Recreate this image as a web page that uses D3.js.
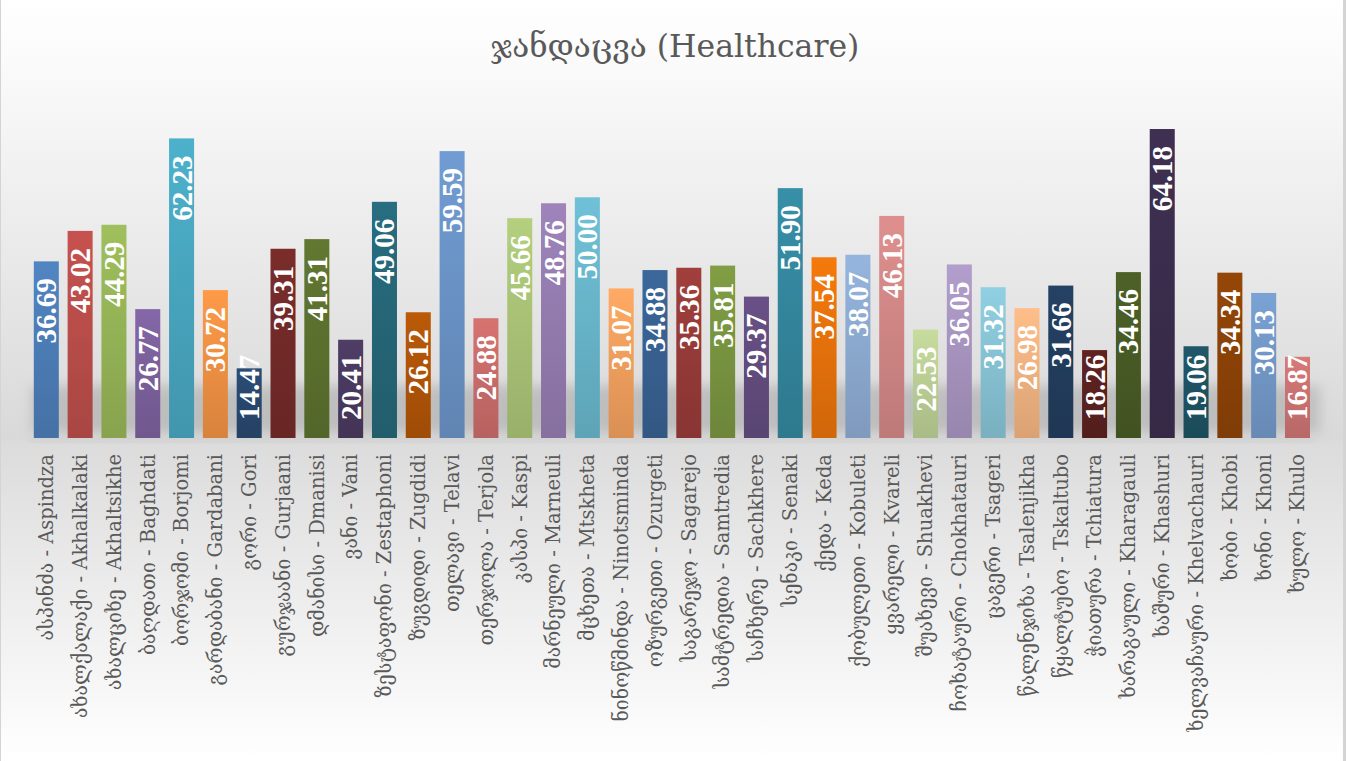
<!DOCTYPE html>
<html><head><meta charset="utf-8">
<script src="https://cdn.jsdelivr.net/npm/d3@7"></script>
<style>html,body{margin:0;padding:0;background:#fff;}svg{display:block;}</style>
</head><body>
<svg id="chart" width="1354" height="761"></svg>
<script>
const title = "ჯანდაცვა (Healthcare)";
const categories = [
"ასპინძა - Aspindza","ახალქალაქი - Akhalkalaki","ახალციხე - Akhaltsikhe","ბაღდათი - Baghdati","ბორჯომი - Borjomi",
"გარდაბანი - Gardabani","გორი - Gori","გურჯაანი - Gurjaani","დმანისი - Dmanisi","ვანი - Vani",
"ზესტაფონი - Zestaphoni","ზუგდიდი - Zugdidi","თელავი - Telavi","თერჯოლა - Terjola","კასპი - Kaspi",
"მარნეული - Marneuli","მცხეთა - Mtskheta","ნინოწმინდა - Ninotsminda","ოზურგეთი - Ozurgeti","საგარეჯო - Sagarejo",
"სამტრედია - Samtredia","საჩხერე - Sachkhere","სენაკი - Senaki","ქედა - Keda","ქობულეთი - Kobuleti",
"ყვარელი - Kvareli","შუახევი - Shuakhevi","ჩოხატაური - Chokhatauri","ცაგერი - Tsageri","წალენჯიხა - Tsalenjikha",
"წყალტუბო - Tskaltubo","ჭიათურა - Tchiatura","ხარაგაული - Kharagauli","ხაშური - Khashuri","ხელვაჩაური - Khelvachauri",
"ხობი - Khobi","ხონი - Khoni","ხულო - Khulo"];
const values = [36.69,43.02,44.29,26.77,62.23,30.72,14.47,39.31,41.31,20.41,49.06,26.12,59.59,24.88,45.66,48.76,50.00,31.07,34.88,35.36,35.81,29.37,51.90,37.54,38.07,46.13,22.53,36.05,31.32,26.98,31.66,18.26,34.46,64.18,19.06,34.34,30.13,16.87];
const palette = ["#4F81BD","#C0504D","#9BBB59","#8064A2","#4BACC6","#F79646","#2A4A72","#772C2A","#5F7530","#4D3B62","#276A7C","#B65708",
"#6E98CD","#D0706E","#AFC97A","#9A80B6","#6CBCD2","#FAA560","#3A6496","#9C3D3A","#7D9A42","#664F83","#358BA3","#EE760C",
"#92B0D8","#D98C8A","#C2D69A","#AD9AC6","#8CCADC","#FAB985","#243F60","#5E2220","#4B5E26","#3D2F50","#1F5666","#914507","#779DCE","#D27776"];

const W = 1354, H = 761;
const svg = d3.select("#chart");
const defs = svg.append("defs");

// background gradient
const bg = defs.append("linearGradient").attr("id","bg").attr("x1",0).attr("y1",0).attr("x2",0).attr("y2",1);
[[0,"#ffffff"],[0.12,"#f8f8f8"],[0.575,"#d9d9d9"],[0.585,"#dcdcdc"],[1,"#ffffff"]].forEach(s=>bg.append("stop").attr("offset",s[0]).attr("stop-color",s[1]));
svg.append("rect").attr("x",0).attr("y",0).attr("width",1343).attr("height",H).attr("fill","url(#bg)");
svg.append("line").attr("x1",0.5).attr("x2",0.5).attr("y1",0).attr("y2",H).attr("stroke","#d4d4d4").attr("stroke-width",1);
svg.append("rect").attr("x",1343).attr("y",0).attr("width",3).attr("height",H).attr("fill","#d4d4d4");

const blur = defs.append("filter").attr("id","blur").attr("x","-50%").attr("y","-50%").attr("width","200%").attr("height","200%");
blur.append("feGaussianBlur").attr("stdDeviation",6);

const x = d3.scaleBand().domain(categories).range([29.4,1314.4]).paddingInner(0.26).paddingOuter(0.13);
const y = d3.scaleLinear().domain([0,70]).range([438,101]);

// floor band
svg.append("rect").attr("x",29).attr("y",y(0)).attr("width",1286).attr("height",5).attr("fill","#d3d3d3").attr("opacity",0.5);

// shadows
svg.append("g").selectAll("rect").data(values).join("rect")
  .attr("x",(d,i)=>x(categories[i])-2)
  .attr("y",d=>Math.max(y(d), y(0)-52))
  .attr("width",x.bandwidth()+12)
  .attr("height",d=>y(0)-6-Math.max(y(d), y(0)-52))
  .attr("fill","#8a8a8a").attr("opacity",0.33).attr("filter","url(#blur)");

// gradients per bar
palette.forEach((c,i)=>{
  const g = defs.append("linearGradient").attr("id","g"+i).attr("x1",0).attr("y1",0).attr("x2",0).attr("y2",1);
  g.append("stop").attr("offset",0).attr("stop-color",d3.color(c).brighter(0.08).formatHex());
  g.append("stop").attr("offset",1).attr("stop-color",d3.color(c).darker(0.38).formatHex());
});

svg.append("g").selectAll("rect").data(values).join("rect")
  .attr("x",(d,i)=>x(categories[i]))
  .attr("y",d=>y(d))
  .attr("width",x.bandwidth())
  .attr("height",d=>y(0)-y(d))
  .attr("fill",(d,i)=>"url(#g"+i+")");

// data labels
const lbl = svg.append("g").selectAll("text").data(values).join("text")
  .text(d=>d.toFixed(2))
  .attr("font-family","'Liberation Serif','Times New Roman',serif")
  .attr("font-weight","bold").attr("font-size",29).attr("fill","#ffffff")
  .attr("text-anchor","end");
lbl.each(function(d,i){
  const len = this.getComputedTextLength();
  let yEnd = y(d)+17;
  if (yEnd + len > y(0)-18) yEnd = y(0)-18-len;
  const cx = x(categories[i]) + x.bandwidth()/2;
  d3.select(this).attr("transform",`translate(${cx+10},${yEnd}) rotate(-90)`);
});

// category labels
svg.append("g").selectAll("text").data(categories).join("text")
  .text(d=>d)
  .attr("font-family","'DejaVu Serif','DejaVu Sans',sans-serif")
  .attr("font-size",19.5).attr("fill","#595959").attr("text-anchor","end")
  .attr("dy","0.35em")
  .attr("transform",d=>`translate(${x(d)+x.bandwidth()/2},454) rotate(-90)`);

// title
svg.append("text").text(title).attr("x",675).attr("y",57)
  .attr("font-family","'DejaVu Serif','DejaVu Sans',serif")
  .attr("font-size",31.5).attr("fill","#595959").attr("text-anchor","middle");
</script>
</body></html>
